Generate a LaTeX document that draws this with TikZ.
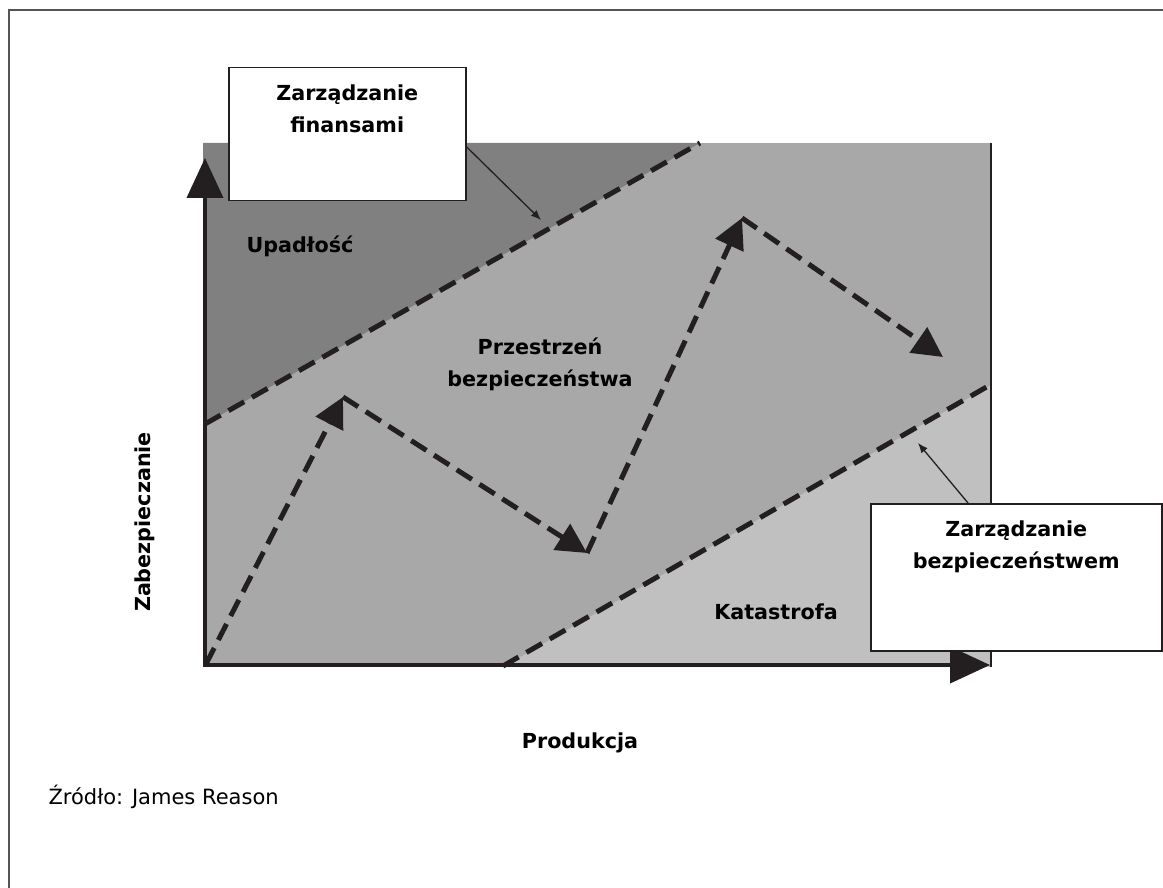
\documentclass[tikz,border=0pt]{standalone}
\usepackage{fontspec}
\setmainfont{DejaVu Sans}
\usetikzlibrary{arrows.meta}

\definecolor{darkzone}{RGB}{128,128,128}
\definecolor{midzone}{RGB}{168,168,168}
\definecolor{lightzone}{RGB}{192,192,192}
\definecolor{ink}{RGB}{35,31,32}
\definecolor{framegray}{RGB}{85,85,85}

\begin{document}
\begin{tikzpicture} [
    x=1pt, y=-1pt,
    every node/.style = {font=\fontsize{20.7pt}{32pt}\selectfont\bfseries},
    axis/.style     = {ink, line width=4pt,
                       -{Triangle[width=36pt,length=40pt]}},
    frontier/.style = {ink, line width=5pt,
                       dash pattern=on 18pt off 9pt},
    trend/.style    = {frontier,
                       -{Triangle[width=30pt,length=30pt]}},
    box/.style      = {draw=ink, fill=white, line width=1.5pt,
                       anchor=north west, inner sep=0pt},
    boxtext/.style  = {anchor=north, yshift=-17.5pt,
                       inner sep=0pt, align=center},
    pointer/.style  = {ink, line width=1.3pt,
                       -{Latex[length=10pt,width=8pt]}}
]
\useasboundingbox (0,0) rectangle (1163,888);
\draw[framegray, line width=2.5pt] (9,888) -- (9,10) -- (1163,10);

% zones
\fill[midzone] (203,143) rectangle (991,667);
\fill[darkzone] (203,143) -- (700,143) -- (203,425) -- cycle;
\fill[lightzone] (503,667) -- (991,385) -- (991,667) -- cycle;
\draw[ink, line width=2pt] (991,143) -- (991,667);

% limits of the safe space
\coordinate (ua) at (205,424);
\coordinate (ub) at (700,143);
\coordinate (la) at (503,666);
\coordinate (lb) at (990,385);
\draw[frontier] (ua) -- (ub);
\draw[frontier] (la) -- (lb);

% course
\coordinate (o)  at (206,664);
\coordinate (p1) at (343,397);
\coordinate (p2) at (587,553);
\coordinate (p3) at (742,218);
\coordinate (p4) at (943,357);
\draw[trend] (o) -- (p1);
\draw[trend] (p1) -- (p2);
\draw[trend] (p2) -- (p3);
\draw[trend] (p3) -- (p4);

% axes
\coordinate (ytop) at (205,158);
\coordinate (xend) at (990,665);
\draw[axis] (205,667) -- (ytop);
\draw[axis] (203,665) -- (xend);

\node (upad) [anchor=base] at (300,252) {Upadłość};
\node (space) [align=center] at (540,364) {Przestrzeń\\bezpieczeństwa};
\node (kat) [anchor=base] at (776,619.5) {Katastrofa};
\node (ylab) [rotate=90, anchor=base] at (150.5,522) {Zabezpieczanie};
\node (xlab) [anchor=base] at (580,748.5) {Produkcja};
\node (src) [anchor=base west, font=\fontsize{21pt}{26pt}\selectfont]
    at (45,804) {Źródło: James Reason};

% boxes
\node (fin) [box, minimum width=237pt, minimum height=133pt,
    label={[boxtext]north:Zarządzanie\\finansami}] at (228,67) {};
\node (bez) [box, minimum width=291pt, minimum height=147pt,
    label={[boxtext]north:Zarządzanie\\bezpieczeństwem}] at (870,503) {};

\coordinate (fa) at (541,220);
\coordinate (sa) at (918,443);
\draw[pointer] (fin.-6.5) -- (fa);
\draw[pointer] (bez.123) -- (sa);
\end{tikzpicture}
\end{document}
